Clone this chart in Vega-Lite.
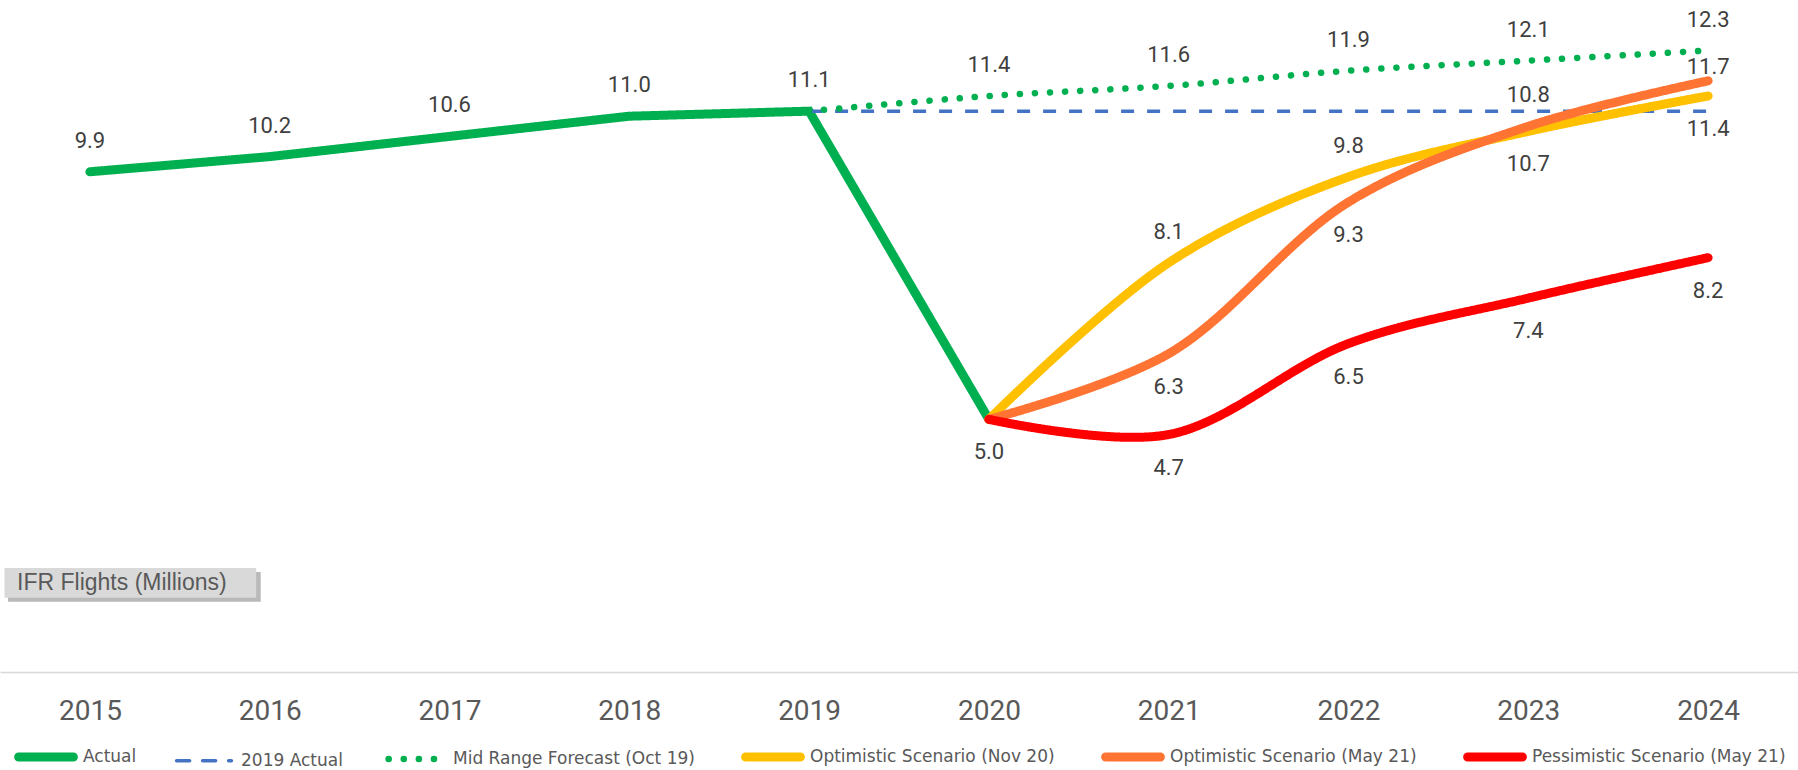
{
  "$schema": "https://vega.github.io/schema/vega-lite/v6.json",
  "width": 1798,
  "height": 672,
  "autosize": {"type": "none"},
  "padding": {"left": 0, "top": 0, "right": 0, "bottom": 98},
  "background": "white",
  "config": {
    "view": {"stroke": null},
    "axisX": {
      "title": null,
      "format": "d",
      "grid": false,
      "ticks": false,
      "tickSize": 0,
      "domainColor": "#D9D9D9",
      "domainWidth": 1.5,
      "labelFont": "Roboto",
      "labelFontSize": 28,
      "labelColor": "#595959",
      "labelBaseline": "alphabetic",
      "labelPadding": 47,
      "labelFlush": false
    },
    "legend": {
      "orient": "none",
      "legendX": 14,
      "legendY": 725,
      "direction": "horizontal",
      "columns": 6,
      "padding": 0,
      "symbolType": "stroke",
      "symbolSize": 3000,
      "labelFont": "DejaVu Sans",
      "labelFontSize": 17,
      "labelColor": "#595959",
      "labelLimit": 0,
      "labelOffset": 5,
      "columnPadding": 32,
      "title": null
    }
  },
  "data": {
    "values": [
      {"series": "Actual", "year": 2015, "value": 9.9},
      {"series": "Actual", "year": 2016, "value": 10.2},
      {"series": "Actual", "year": 2017, "value": 10.6},
      {"series": "Actual", "year": 2018, "value": 11.0},
      {"series": "Actual", "year": 2019, "value": 11.1},
      {"series": "Actual", "year": 2020, "value": 5.0},
      {"series": "2019 Actual", "year": 2019, "value": 11.1},
      {"series": "2019 Actual", "year": 2020, "value": 11.1},
      {"series": "2019 Actual", "year": 2021, "value": 11.1},
      {"series": "2019 Actual", "year": 2022, "value": 11.1},
      {"series": "2019 Actual", "year": 2023, "value": 11.1},
      {"series": "2019 Actual", "year": 2024, "value": 11.1},
      {"series": "Mid Range Forecast (Oct 19)", "year": 2019, "value": 11.1},
      {"series": "Mid Range Forecast (Oct 19)", "year": 2020, "value": 11.4},
      {"series": "Mid Range Forecast (Oct 19)", "year": 2021, "value": 11.6},
      {"series": "Mid Range Forecast (Oct 19)", "year": 2022, "value": 11.9},
      {"series": "Mid Range Forecast (Oct 19)", "year": 2023, "value": 12.1},
      {"series": "Mid Range Forecast (Oct 19)", "year": 2024, "value": 12.3},
      {"series": "Optimistic Scenario (Nov 20)", "year": 2020, "value": 5.0},
      {"series": "Optimistic Scenario (Nov 20)", "year": 2021, "value": 8.1},
      {"series": "Optimistic Scenario (Nov 20)", "year": 2022, "value": 9.8},
      {"series": "Optimistic Scenario (Nov 20)", "year": 2023, "value": 10.7},
      {"series": "Optimistic Scenario (Nov 20)", "year": 2024, "value": 11.4},
      {"series": "Optimistic Scenario (May 21)", "year": 2020, "value": 5.0},
      {"series": "Optimistic Scenario (May 21)", "year": 2021, "value": 6.3},
      {"series": "Optimistic Scenario (May 21)", "year": 2022, "value": 9.3},
      {"series": "Optimistic Scenario (May 21)", "year": 2023, "value": 10.8},
      {"series": "Optimistic Scenario (May 21)", "year": 2024, "value": 11.7},
      {"series": "Pessimistic Scenario (May 21)", "year": 2020, "value": 5.0},
      {"series": "Pessimistic Scenario (May 21)", "year": 2021, "value": 4.7},
      {"series": "Pessimistic Scenario (May 21)", "year": 2022, "value": 6.5},
      {"series": "Pessimistic Scenario (May 21)", "year": 2023, "value": 7.4},
      {"series": "Pessimistic Scenario (May 21)", "year": 2024, "value": 8.2}
    ]
  },
  "layer": [
    {
      "encoding": {
        "x": {
          "field": "year",
          "type": "quantitative",
          "scale": {"domain": [2014.5, 2024.5], "nice": false, "zero": false},
          "axis": {"title": null, "values": [2015, 2016, 2017, 2018, 2019, 2020, 2021, 2022, 2023, 2024]}
        },
        "y": {
          "field": "value",
          "type": "quantitative",
          "scale": {"domain": [0, 13.3], "nice": false},
          "axis": null
        }
      },
      "layer": [
        {
          "encoding": {
            "color": {
              "field": "series",
              "type": "nominal",
              "scale": {
                "domain": ["Actual", "2019 Actual", "Mid Range Forecast (Oct 19)", "Optimistic Scenario (Nov 20)", "Optimistic Scenario (May 21)", "Pessimistic Scenario (May 21)"],
                "range": ["#00B050", "#4472C4", "#00B050", "#FFC000", "#FF7433", "#FF0000"]
              },
              "legend": {
                "encode": {"symbols": {"update": {"strokeCap": {"value": "round"}}}}
              }
            },
            "strokeDash": {
              "field": "series",
              "type": "nominal",
              "scale": {
                "domain": ["Actual", "2019 Actual", "Mid Range Forecast (Oct 19)", "Optimistic Scenario (Nov 20)", "Optimistic Scenario (May 21)", "Pessimistic Scenario (May 21)"],
                "range": [[1, 0], [13, 13], [0.1, 15], [1, 0], [1, 0], [1, 0]]
              }
            },
            "strokeWidth": {
              "field": "series",
              "type": "ordinal",
              "scale": {
                "type": "ordinal",
                "domain": ["Actual", "2019 Actual", "Mid Range Forecast (Oct 19)", "Optimistic Scenario (Nov 20)", "Optimistic Scenario (May 21)", "Pessimistic Scenario (May 21)"],
                "range": [9, 3.5, 6.5, 9, 9, 9]
              }
            }
          },
          "layer": [
            {
              "transform": [{"filter": "datum.series === 'Actual'"}],
              "mark": {"type": "line", "strokeCap": "round"}
            },
            {
              "transform": [{"filter": "datum.series === '2019 Actual'"}],
              "mark": {"type": "line", "strokeCap": "butt"}
            },
            {
              "transform": [{"filter": "datum.series === 'Mid Range Forecast (Oct 19)'"}],
              "mark": {"type": "line", "strokeCap": "round", "interpolate": "catmull-rom"}
            },
            {
              "transform": [{"filter": "datum.series === 'Optimistic Scenario (Nov 20)'"}],
              "mark": {"type": "line", "strokeCap": "round", "interpolate": "catmull-rom"}
            },
            {
              "transform": [{"filter": "datum.series === 'Optimistic Scenario (May 21)'"}],
              "mark": {"type": "line", "strokeCap": "round", "interpolate": "catmull-rom"}
            },
            {
              "transform": [{"filter": "datum.series === 'Pessimistic Scenario (May 21)'"}],
              "mark": {"type": "line", "strokeCap": "round", "interpolate": "catmull-rom"}
            }
          ]
        },
        {
          "transform": [{"filter": "(datum.series === 'Actual' && datum.year <= 2019) || (datum.series === 'Mid Range Forecast (Oct 19)' && datum.year >= 2020) || (datum.series === 'Optimistic Scenario (Nov 20)' && (datum.year == 2021 || datum.year == 2022)) || (datum.series === 'Optimistic Scenario (May 21)' && datum.year == 2023)"}],
          "mark": {"type": "text", "font": "Roboto", "fontSize": 22, "color": "#404040", "baseline": "middle", "dy": -31},
          "encoding": {"text": {"field": "value", "type": "quantitative", "format": ".1f"}}
        },
        {
          "transform": [{"filter": "(datum.series === 'Actual' && datum.year == 2020) || (datum.series === 'Optimistic Scenario (Nov 20)' && datum.year >= 2023) || (datum.series === 'Optimistic Scenario (May 21)' && (datum.year == 2021 || datum.year == 2022)) || (datum.series === 'Pessimistic Scenario (May 21)' && datum.year >= 2021)"}],
          "mark": {"type": "text", "font": "Roboto", "fontSize": 22, "color": "#404040", "baseline": "middle", "dy": 33},
          "encoding": {"text": {"field": "value", "type": "quantitative", "format": ".1f"}}
        },
        {
          "transform": [{"filter": "datum.series === 'Optimistic Scenario (May 21)' && datum.year == 2024"}],
          "mark": {"type": "text", "font": "Roboto", "fontSize": 22, "color": "#404040", "baseline": "middle", "dy": -14},
          "encoding": {"text": {"field": "value", "type": "quantitative", "format": ".1f"}}
        }
      ]
    },
    {
      "data": {"values": [{"label": "IFR Flights (Millions)"}]},
      "mark": {"type": "rect", "color": "#7f7f7f", "opacity": 0.55},
      "encoding": {
        "x": {"datum": 2014.545, "type": "quantitative", "axis": {"title": null}},
        "x2": {"datum": 2015.95},
        "y": {"datum": 1.98, "type": "quantitative", "axis": null},
        "y2": {"datum": 1.39}
      }
    },
    {
      "data": {"values": [{"label": "IFR Flights (Millions)"}]},
      "mark": {"type": "rect", "color": "#D9D9D9"},
      "encoding": {
        "x": {"datum": 2014.525, "type": "quantitative", "axis": {"title": null}},
        "x2": {"datum": 2015.925},
        "y": {"datum": 2.06, "type": "quantitative", "axis": null},
        "y2": {"datum": 1.47}
      }
    },
    {
      "data": {"values": [{"label": "IFR Flights (Millions)"}]},
      "mark": {"type": "text", "align": "left", "baseline": "middle", "font": "Liberation Sans", "fontSize": 23, "color": "#595959"},
      "encoding": {
        "x": {"datum": 2014.595, "type": "quantitative", "axis": {"title": null}},
        "y": {"datum": 1.76, "type": "quantitative", "axis": null},
        "text": {"field": "label", "type": "nominal"}
      }
    }
  ]
}
